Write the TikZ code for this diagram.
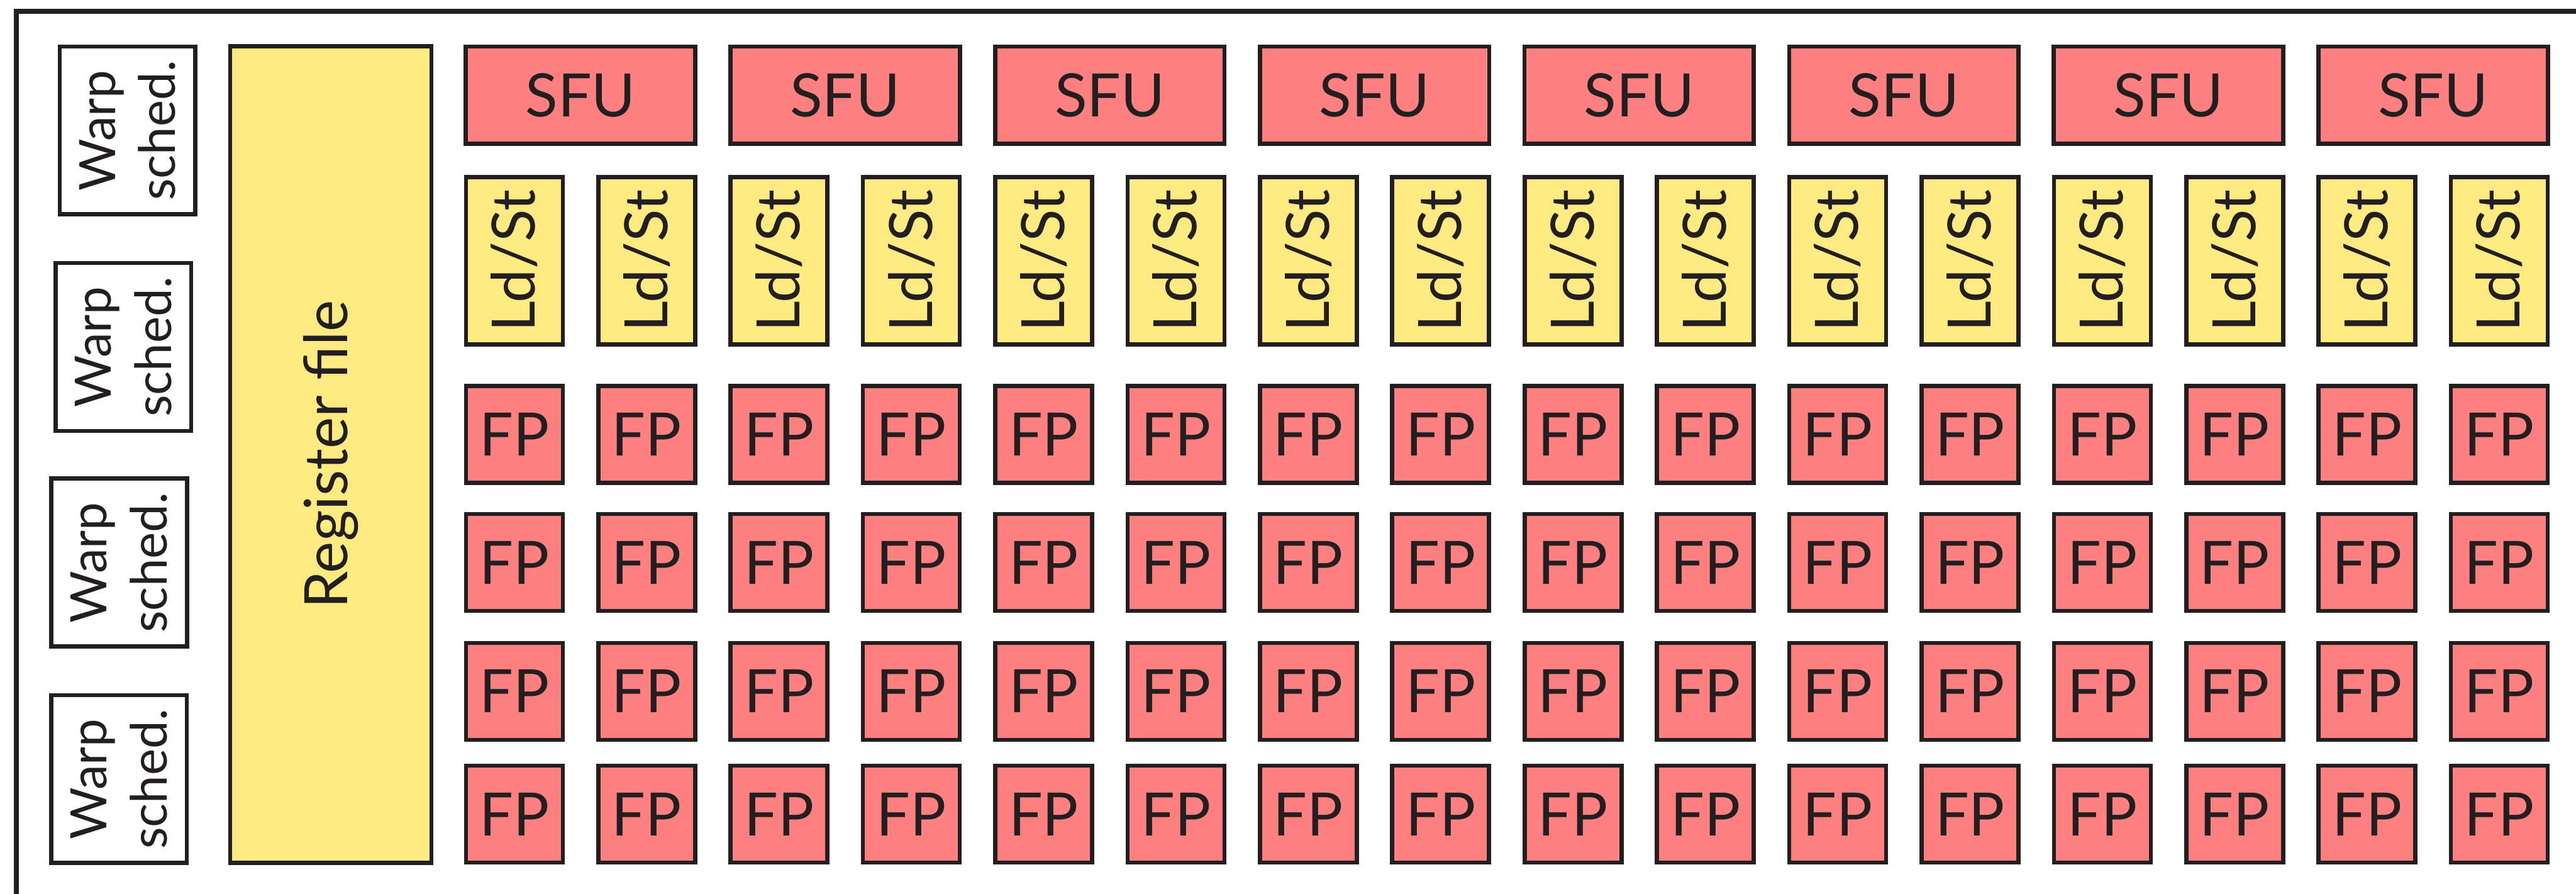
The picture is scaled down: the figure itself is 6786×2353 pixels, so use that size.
\documentclass[tikz,border=0pt]{standalone}
\usepackage{fontspec}
\setmainfont{Lato}
\definecolor{ink}{HTML}{231F20}
\definecolor{fpred}{HTML}{FF8080}
\definecolor{ldyel}{HTML}{FDEB82}
\begin{document}
\begin{tikzpicture}[x=0.01cm,y=-0.01cm,
  unit/.style={draw=ink, line width=0.11cm, text=ink, inner sep=0pt,
    font=\fontsize{44.8}{54}\selectfont},
  fpbox/.style={unit, fill=fpred, minimum width=2.55cm, minimum height=2.55cm},
  sfubox/.style={unit, fill=fpred, minimum width=6.036cm, minimum height=2.56cm},
  ldbox/.style={unit, fill=ldyel, rotate=90, minimum width=4.40cm, minimum height=2.55cm},
  regbox/.style={unit, fill=ldyel, rotate=90, minimum width=21.49cm, minimum height=5.30cm},
  warpbox/.style={unit, fill=white, rotate=90, minimum width=4.42cm, minimum height=3.57cm,
    align=center, font=\fontsize{37.6}{45.1}\selectfont},
  frameline/.style={draw=ink, line width=0.13cm, line join=miter}
]
\useasboundingbox (0,0) rectangle (6786,2353);
\begin{scope}
\clip (0,0) rectangle (6786,2353);
\coordinate (fbl) at (43,2500);
\coordinate (ftl) at (43,30);
\coordinate (ftr) at (6900,30);
\draw[frameline] (fbl) -- (ftl) -- (ftr);
\end{scope}

% warp schedulers
\node[warpbox] (w1) at (336,343.5) {Warp\\sched.};
\node[warpbox] (w2) at (325,913.5) {Warp\\sched.};
\node[warpbox] (w3) at (314,1481.5) {Warp\\sched.};
\node[warpbox] (w4) at (313.5,2051.5) {Warp\\sched.};

% register file
\node[regbox] (reg) at (871.5,1197) {Register file};

% SFUs
\foreach \k in {0,...,7} {
  \pgfmathsetmacro\cx{1222+697.2*\k+307.3}
  \node[sfubox] (sfu\k) at (\cx,250.5) {SFU};
}

% Ld/St and FP
\foreach \i in {0,...,15} {
  \pgfmathsetmacro\cx{1222+348.6*\i+133}
  \node[ldbox] (ld\i) at (\cx,686.5) {Ld/St};
  \node[fpbox] (fpa\i) at (\cx,1144) {FP};
  \node[fpbox] (fpb\i) at (\cx,1481) {FP};
  \node[fpbox] (fpc\i) at (\cx,1820.5) {FP};
  \node[fpbox] (fpd\i) at (\cx,2144) {FP};
}
\end{tikzpicture}
\end{document}
